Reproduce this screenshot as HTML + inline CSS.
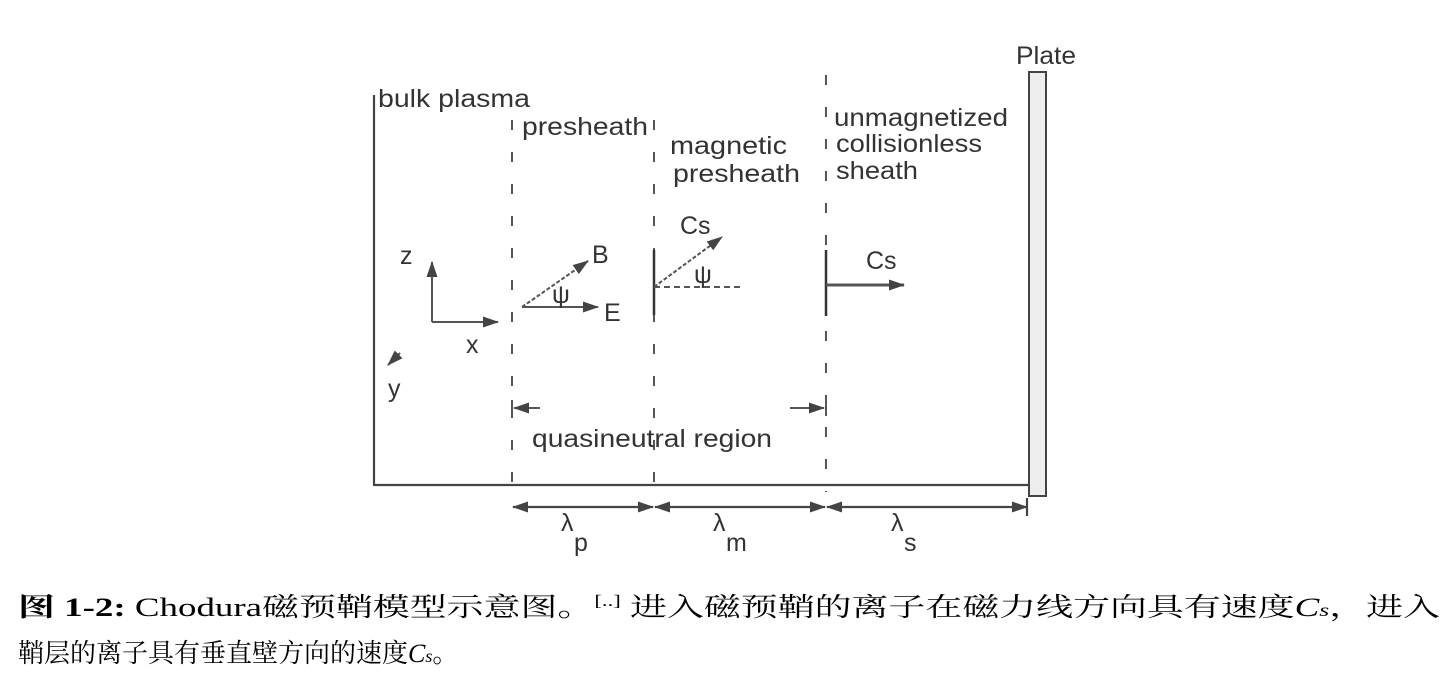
<!DOCTYPE html>
<html><head><meta charset="utf-8"><style>
html,body{margin:0;padding:0;background:#fff;}
svg{display:block;}
.t{font-family:"Liberation Sans",sans-serif;fill:#333;font-size:25px;}
.c{font-family:"Liberation Serif","Noto Serif CJK SC",serif;fill:#000;font-size:26px;}
</style></head><body>
<svg width="1451" height="680" viewBox="0 0 1451 680">
<defs>
<marker id="ah" markerUnits="userSpaceOnUse" markerWidth="16" markerHeight="12" refX="15" refY="6" orient="auto-start-reverse"><path d="M0,0.5 L16,6 L0,11.5 z" fill="#444"/></marker>
</defs>
<g stroke="#444" stroke-width="2.2" fill="none">
<line x1="374" y1="95" x2="374" y2="486"/>
<line x1="374" y1="485" x2="1028" y2="485"/>
<rect x="1029" y="72" width="17" height="424" stroke-width="2" fill="#eee"/>
</g>
<g stroke="#555" stroke-width="2" stroke-dasharray="10,22">
<line x1="512" y1="120" x2="512" y2="492"/>
<line x1="654" y1="120" x2="654" y2="492"/>
<line x1="826" y1="75" x2="826" y2="492"/>
</g>
<g stroke="#333" stroke-width="2.5">
<line x1="654" y1="250" x2="654" y2="315"/>
<line x1="826" y1="250" x2="826" y2="316"/>
</g>
<g stroke="#555" stroke-width="2" fill="none">
<line x1="432" y1="322" x2="432" y2="262" marker-end="url(#ah)"/>
<line x1="432" y1="322" x2="498" y2="322" marker-end="url(#ah)"/>
<line x1="400" y1="353" x2="388" y2="365" marker-end="url(#ah)"/>
</g>
<g stroke="#555" stroke-width="2" fill="none">
<line x1="522" y1="307" x2="588" y2="261" stroke-dasharray="4,2" marker-end="url(#ah)"/>
<line x1="522" y1="307" x2="598" y2="307" marker-end="url(#ah)"/>
<line x1="654" y1="287" x2="722" y2="237" stroke-dasharray="4,2" marker-end="url(#ah)"/>
<line x1="654" y1="287" x2="740" y2="287" stroke-dasharray="6,4"/>
<line x1="826" y1="285" x2="904" y2="285" stroke-width="3" marker-end="url(#ah)"/>
<line x1="540" y1="408" x2="514" y2="408" marker-end="url(#ah)"/>
<line x1="790" y1="408" x2="824" y2="408" marker-end="url(#ah)"/>
<line x1="512" y1="400" x2="512" y2="416"/>
<line x1="826" y1="400" x2="826" y2="416"/>
</g>
<g stroke="#444" stroke-width="2.2">
<line x1="513" y1="507" x2="653" y2="507" marker-start="url(#ah)" marker-end="url(#ah)"/>
<line x1="655" y1="507" x2="825" y2="507" marker-start="url(#ah)" marker-end="url(#ah)"/>
<line x1="827" y1="507" x2="1027" y2="507" marker-start="url(#ah)" marker-end="url(#ah)"/>
<line x1="1027" y1="498" x2="1027" y2="516"/>
</g>
<text class="t" x="378" y="107" textLength="152" lengthAdjust="spacingAndGlyphs">bulk plasma</text>
<text class="t" x="522" y="135" textLength="126" lengthAdjust="spacingAndGlyphs">presheath</text>
<text class="t" x="670" y="154" textLength="117" lengthAdjust="spacingAndGlyphs">magnetic</text>
<text class="t" x="673" y="182" textLength="127" lengthAdjust="spacingAndGlyphs">presheath</text>
<text class="t" x="834" y="126" textLength="174" lengthAdjust="spacingAndGlyphs">unmagnetized</text>
<text class="t" x="836" y="152" textLength="146" lengthAdjust="spacingAndGlyphs">collisionless</text>
<text class="t" x="836" y="179" textLength="82" lengthAdjust="spacingAndGlyphs">sheath</text>
<text class="t" x="1016" y="64" textLength="60" lengthAdjust="spacingAndGlyphs">Plate</text>
<text class="t" x="532" y="447" textLength="240" lengthAdjust="spacingAndGlyphs">quasineutral region</text>
<text class="t" x="400" y="264">z</text>
<text class="t" x="466" y="353">x</text>
<text class="t" x="388" y="397">y</text>
<text class="t" x="680" y="234">Cs</text>
<text class="t" x="592" y="263">B</text>
<text class="t" x="604" y="321">E</text>
<text class="t" x="866" y="269">Cs</text>
<text class="t" x="552" y="303" font-size="17">ψ</text>
<text class="t" x="694" y="283" font-size="17">ψ</text>
<text class="t" x="561" y="531">λ</text><text class="t" x="574" y="551">p</text>
<text class="t" x="713" y="531">λ</text><text class="t" x="726" y="551">m</text>
<text class="t" x="891" y="531">λ</text><text class="t" x="904" y="551">s</text>
<text class="c" x="18" y="616" textLength="1422" lengthAdjust="spacingAndGlyphs"><tspan font-weight="bold">图 1-2:</tspan> Chodura磁预鞘模型示意图。<tspan font-size="16" dy="-10">[..]</tspan><tspan dy="10"> 进入磁预鞘的离子在磁力线方向具有速度</tspan><tspan font-style="italic">C</tspan><tspan font-style="italic" font-size="18">s</tspan>，进入</text>
<text class="c" x="18" y="662">鞘层的离子具有垂直壁方向的速度<tspan font-style="italic">C</tspan><tspan font-style="italic" font-size="18">s</tspan>。</text>
</svg>
</body></html>
